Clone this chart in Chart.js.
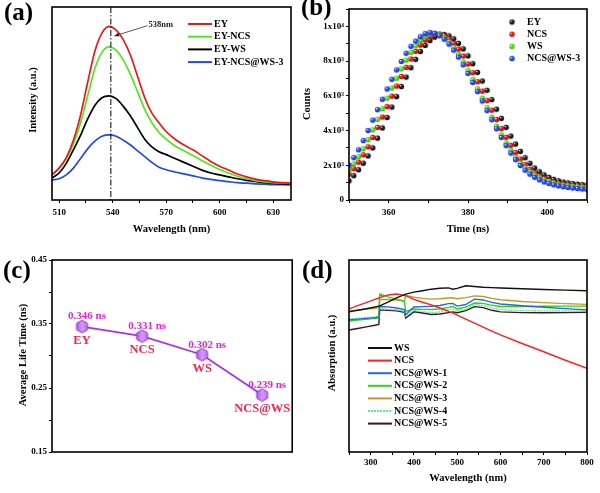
<!DOCTYPE html>
<html><head><meta charset="utf-8">
<script src="https://cdn.jsdelivr.net/npm/chart.js@4/dist/chart.umd.min.js"></script>
<style>
html,body{margin:0;padding:0;background:#fff;}
#wrap{position:relative;width:600px;height:493px;overflow:hidden;background:#fff;}
canvas{position:absolute;}
.pl{position:absolute;font-family:'Liberation Serif','Times New Roman',serif;font-weight:bold;font-size:25px;line-height:1;color:#000;}
</style></head>
<body><div id="wrap">
<canvas id="ca" width="300" height="245" style="left:0;top:0"></canvas>
<canvas id="cb" width="300" height="245" style="left:300px;top:0"></canvas>
<canvas id="cc" width="300" height="248" style="left:0;top:245px"></canvas>
<canvas id="cd" width="300" height="248" style="left:300px;top:245px"></canvas>
<div class="pl" style="left:4px;top:-1px">(a)</div>
<div class="pl" style="left:301px;top:-6px">(b)</div>
<div class="pl" style="left:3px;top:257px">(c)</div>
<div class="pl" style="left:302px;top:257px">(d)</div>
</div>
<script>
// ---------- (a) PL spectra ----------
const plWavelength = [506,510,514,518,522,526,530,534,538,542,546,550,554,558,562,566,570,575,580,585,590,595,600,605,610,615,620,625,630,635,640];
const plEY      = [13,16.5,22,31,44,61,77,86.5,90,88,83,75,64,53,45,40,35.5,31.5,28.5,26,23,20,17.5,15.5,13.5,12,10.8,10,9.4,9,8.8];
const plEYNCS   = [13.5,16.5,21.5,29,40,54,68,76.5,79.3,77.5,72.5,65,56,47,40,35,31.5,28,25.5,23,20.5,18,15.8,14,12.3,11,10,9.4,9,8.8,8.6];
const plEYWS    = [11.4,14,19,26,33.5,42,49,53,54,52.5,48.5,43.5,37.5,31.5,27.5,25,23.5,21.5,19.5,17.5,15.5,14,13,12,11,10.2,9.6,9,8.6,8.4,8.3];
const plEYNCSWS = [10.4,11,13,16.5,21.5,26.5,30.5,33,33.7,33,31,28.5,25.5,22.5,19.5,17,15.7,14.5,13.5,12.5,11.5,10.7,10,9.5,9,8.7,8.4,8.2,8,7.9,7.8];
const plLabels  = ['EY','EY-NCS','EY-WS','EY-NCS@WS-3'];
const plPeakLine = 539;
const plPeakText = '538nm';

// ---------- (b) decay curves ----------
const trTime = [350,351.2,352.4,353.6,354.8,356,357.2,358.4,359.6,360.8,362,363.2,364.4,365.6,366.8,368,369.2,370.4,371.6,372.8,374,375.2,376.4,377.6,378.8,380,381.2,382.4,383.6,384.8,386,387.2,388.4,389.6,390.8,392,393.2,394.4,395.6,396.8,398,399.2,400.4,401.6,402.8,404,405.2,406.4,407.6,408.8,410];
const trEY  = [1100,1400,1740,2120,2540,3000,3560,4150,4750,5350,5950,6530,7080,7620,8100,8550,8900,9180,9380,9500,9530,9450,9280,9020,8700,8300,7850,7350,6850,6320,5780,5230,4700,4180,3680,3220,2800,2430,2110,1840,1620,1440,1300,1190,1100,1030,980,940,910,880,860];
const trNCS = [1480,1800,2180,2600,3060,3600,4180,4780,5380,5980,6560,7110,7640,8120,8560,8920,9210,9420,9540,9560,9460,9280,9020,8690,8290,7830,7330,6810,6270,5720,5170,4630,4110,3610,3150,2730,2360,2040,1770,1560,1380,1240,1130,1040,970,910,870,840,810,790,770];
const trWS  = [1720,2080,2490,2950,3470,4040,4640,5250,5860,6450,7010,7550,8050,8500,8880,9190,9420,9560,9590,9520,9350,9100,8780,8390,7940,7450,6940,6400,5860,5310,4770,4250,3750,3280,2850,2460,2130,1850,1620,1430,1280,1150,1050,970,900,850,810,780,750,730,710];
const trNCSWS = [2000,2440,2890,3420,4000,4600,5200,5800,6390,6950,7490,7980,8450,8850,9150,9400,9580,9640,9600,9460,9260,8980,8630,8230,7780,7290,6770,6240,5700,5150,4620,4100,3600,3130,2700,2320,1990,1720,1490,1310,1160,1040,950,870,810,760,720,690,660,630,610];
const trLabels = ['EY','NCS','WS','NCS@WS-3'];
const trTickTexts = {0:'0',2000:'2x10\u00B3',4000:'4x10\u00B3',6000:'6x10\u00B3',8000:'8x10\u00B3',10000:'1x10\u2074'};

// ---------- (c) average lifetime ----------
const ltSamples = ['EY','NCS','WS','NCS@WS'];
const ltValues  = [0.346,0.331,0.302,0.239];
const ltTexts   = ['0.346 ns','0.331 ns','0.302 ns','0.239 ns'];

// ---------- (d) absorption ----------
const abWavelength = [250,270,290,310,319,321,340,360,378,381,400,420,440,460,480,490,500,520,540,560,580,600,650,700,750,800];
const abWS   = [73,73.8,74.6,75.5,76,76.1,78,80.3,82,82.2,83.3,84,84.8,85.3,85.5,84.8,85.2,86.6,86.2,85.8,85.6,85.4,85,84.6,84.3,84];
const abNCS  = [74.5,76.2,77.8,79.5,80.2,80.4,81.8,82.3,81.6,81.4,79.5,78,76.6,75,73.2,72.3,71.3,69.2,67.1,65,63,61,56.5,52.2,47.8,43.6];
const abNW1  = [68.8,69.2,69.6,70,70.2,75.8,75.6,75,74.2,71.5,75.5,75.7,75.9,76.3,77.3,77.4,76,76.8,79.6,79.2,77.9,77.1,76.2,75.4,74.7,74];
const abNW2  = [68.2,68.7,69.1,69.6,69.9,82.3,80.8,79.6,78.6,73.2,74.5,74.3,74.2,74.5,75.3,75.8,74.5,75.5,77.6,77.4,76.4,75.8,75.8,75.9,76,76];
const abNW3  = [73.4,73.9,74.4,74.9,75.2,79.5,79.4,79.2,78.6,81.6,80.6,80,79.6,79.8,80.2,80.3,79.8,80.4,81.3,81,80,79.3,78.4,77.8,77.3,76.9];
const abNW4  = [69.2,69.6,70,70.4,70.6,74.6,74.3,74,73.3,70.8,73.8,73.2,72.5,73,74.2,74.5,73.3,74.3,76.7,76.3,75,74.2,73.7,73.5,73.4,73.5];
const abNW5  = [63.5,64.3,65.2,66,66.5,74,73.8,73.5,72.8,69.8,73,72.4,71.6,71.9,72.6,73,72.5,73.6,75.7,75.2,73.8,73,72.6,72.5,72.6,72.8];
const abLabels = ['WS','NCS','NCS@WS-1','NCS@WS-2','NCS@WS-3','NCS@WS-4','NCS@WS-5'];

// ---------- helpers ----------
const SERIF = "'Liberation Serif','Times New Roman',serif";
Chart.defaults.font.family = SERIF;
Chart.defaults.color = '#000';

function sphere(color, dark, r) {
  const s = Math.ceil(r * 2) + 1;
  const c = document.createElement('canvas'); c.width = s; c.height = s;
  const g = c.getContext('2d');
  const grd = g.createRadialGradient(s*0.36, s*0.34, 0.2, s/2, s/2, r);
  grd.addColorStop(0, '#ffffff');
  grd.addColorStop(0.3, color);
  grd.addColorStop(1, dark);
  g.fillStyle = grd; g.beginPath(); g.arc(s/2, s/2, r, 0, Math.PI*2); g.fill();
  return c;
}
function hexagon(r) {
  const s = Math.ceil(r * 2) + 2;
  const c = document.createElement('canvas'); c.width = s; c.height = s;
  const g = c.getContext('2d');
  g.beginPath();
  for (let k = 0; k < 6; k++) {
    const a = (-90 + 60 * k) * Math.PI / 180;
    const px = s/2 + r * Math.cos(a), py = s/2 + r * Math.sin(a);
    k ? g.lineTo(px, py) : g.moveTo(px, py);
  }
  g.closePath();
  const grd = g.createLinearGradient(0, 0, s, 0);
  grd.addColorStop(0, '#a448e6'); grd.addColorStop(0.5, '#d49af8'); grd.addColorStop(1, '#b866ee');
  g.fillStyle = grd; g.fill();
  g.strokeStyle = '#8e2ad2'; g.lineWidth = 1; g.stroke();
  return c;
}

function makeDeco(cfg) {
  return {
    id: 'deco',
    afterDraw(chart) {
      const ctx = chart.ctx, a = chart.chartArea;
      ctx.save();
      if (cfg.extra) cfg.extra(chart, ctx);
      ctx.strokeStyle = '#000'; ctx.lineWidth = 1.6; ctx.setLineDash([]);
      ctx.strokeRect(a.left, a.top, a.right - a.left, a.bottom - a.top);
      ctx.fillStyle = '#000'; ctx.textAlign = 'center'; ctx.textBaseline = 'middle';
      ctx.font = 'bold 10.5px ' + SERIF;
      ctx.fillText(cfg.xTitle, (a.left + a.right) / 2, cfg.xTitleY);
      ctx.save(); ctx.translate(cfg.yTitleX, cfg.yTitleY); ctx.rotate(-Math.PI/2);
      ctx.fillText(cfg.yTitle, 0, 0); ctx.restore();
      if (cfg.legend) {
        const L = cfg.legend;
        ctx.font = 'bold 10px ' + SERIF; ctx.textAlign = 'left';
        chart.data.datasets.forEach((ds, i) => {
          const y = L.y0 + i * L.dy;
          if (L.kind === 'dot') {
            const im = ds.pointStyle;
            ctx.drawImage(im, L.x0 - im.width/2, y - im.height/2);
          } else {
            ctx.strokeStyle = ds.borderColor; ctx.lineWidth = 2;
            ctx.setLineDash(ds.borderDash || []);
            ctx.beginPath(); ctx.moveTo(L.x0, y); ctx.lineTo(L.x1, y); ctx.stroke();
            ctx.setLineDash([]);
          }
          ctx.fillStyle = '#000';
          ctx.fillText(ds.label, L.tx, y);
        });
      }
      ctx.restore();
    }
  };
}

function tickGrid() {
  return { display: true, drawOnChartArea: false, drawTicks: true, tickLength: 3, color: '#000', lineWidth: 1 };
}
const tickFont = { family: SERIF, weight: 'bold', size: 9 };

// ---------- chart (a) ----------
const aColors = ['#f21616', '#4ee81c', '#000000', '#2248ee'];
new Chart(document.getElementById('ca'), {
  type: 'line',
  data: {
    labels: plWavelength,
    datasets: [plEY, plEYNCS, plEYWS, plEYNCSWS].map((arr, i) => ({
      label: plLabels[i],
      data: arr.map((v, k) => ({ x: plWavelength[k], y: v })),
      borderColor: aColors[i], borderWidth: 1.7, pointRadius: 0,
      cubicInterpolationMode: 'monotone', fill: false
    }))
  },
  options: {
    responsive: false, animation: false, events: [],
    layout: { padding: { top: 7, right: 9, left: 0, bottom: 0 } },
    plugins: { legend: { display: false }, tooltip: { enabled: false } },
    scales: {
      x: { type: 'linear', min: 506, max: 640,
        ticks: { stepSize: 15, includeBounds: false, font: tickFont, padding: 4, maxRotation: 0, autoSkip: false,
          callback: v => (v % 30 === 0 ? String(v) : '') },
        grid: tickGrid(), border: { display: false },
        afterFit: s => { s.height = 45; } },
      y: { min: 0, max: 100, ticks: { display: false }, grid: { display: false }, border: { display: false },
        afterFit: s => { s.width = 52; } }
    }
  },
  plugins: [makeDeco({
    xTitle: 'Wavelength (nm)', xTitleY: 229,
    yTitle: 'Intensity (a.u.)', yTitleX: 33, yTitleY: 100,
    legend: { kind: 'line', x0: 188, x1: 212, tx: 214, y0: 24, dy: 12.7 },
    extra: (chart, ctx) => {
      const xs = chart.scales.x, ys = chart.scales.y, a = chart.chartArea;
      const px = xs.getPixelForValue(plPeakLine);
      ctx.strokeStyle = '#000'; ctx.lineWidth = 1; ctx.setLineDash([6, 2, 1.5, 2]);
      ctx.beginPath(); ctx.moveTo(px, a.top); ctx.lineTo(px, a.bottom); ctx.stroke();
      ctx.setLineDash([]);
      const x1 = xs.getPixelForValue(559.5), y1 = ys.getPixelForValue(90.3);
      const x2 = xs.getPixelForValue(541), y2 = ys.getPixelForValue(85);
      ctx.strokeStyle = '#444'; ctx.lineWidth = 0.9;
      ctx.beginPath(); ctx.moveTo(x1, y1); ctx.lineTo(x2, y2); ctx.stroke();
      const ang = Math.atan2(y2 - y1, x2 - x1);
      ctx.fillStyle = '#222';
      ctx.beginPath(); ctx.moveTo(x2, y2);
      ctx.lineTo(x2 - 5 * Math.cos(ang - 0.4), y2 - 5 * Math.sin(ang - 0.4));
      ctx.lineTo(x2 - 5 * Math.cos(ang + 0.4), y2 - 5 * Math.sin(ang + 0.4));
      ctx.closePath(); ctx.fill();
      ctx.font = 'bold 8.5px ' + SERIF; ctx.textAlign = 'left'; ctx.textBaseline = 'middle';
      ctx.fillText(plPeakText, x1 + 1, y1 - 1);
    }
  })]
});

// ---------- chart (b) ----------
const bSpheres = [sphere('#333333', '#050505', 2.7), sphere('#ff2020', '#c00000', 2.7), sphere('#66f030', '#2fb800', 2.7), sphere('#3a5cff', '#1a2cc8', 2.7)];
new Chart(document.getElementById('cb'), {
  type: 'scatter',
  data: {
    datasets: [trEY, trNCS, trWS, trNCSWS].map((arr, i) => ({
      label: trLabels[i],
      data: arr.map((v, k) => ({ x: trTime[k], y: v })),
      pointStyle: bSpheres[i], pointRadius: 2.7, showLine: false,
      order: 3 - i
    }))
  },
  options: {
    responsive: false, animation: false, events: [],
    layout: { padding: { top: 9, right: 13, left: 0, bottom: 0 } },
    plugins: { legend: { display: false }, tooltip: { enabled: false } },
    scales: {
      x: { type: 'linear', min: 350, max: 410,
        ticks: { stepSize: 10, font: tickFont, padding: 4, maxRotation: 0, autoSkip: false,
          callback: v => (v % 20 === 0 ? String(v) : '') },
        grid: tickGrid(), border: { display: false },
        afterFit: s => { s.height = 45; } },
      y: { min: 0, max: 11000,
        ticks: { stepSize: 1000, font: tickFont, padding: 2, autoSkip: false,
          callback: v => (trTickTexts[v] !== undefined ? trTickTexts[v] : '') },
        grid: tickGrid(), border: { display: false },
        afterFit: s => { s.width = 49; } }
    }
  },
  plugins: [makeDeco({
    xTitle: 'Time (ns)', xTitleY: 229,
    yTitle: 'Counts', yTitleX: 7, yTitleY: 104,
    legend: { kind: 'dot', x0: 212, tx: 227, y0: 22, dy: 12.2 }
  })]
});

// ---------- chart (c) ----------
const hexImg = hexagon(6.3);
new Chart(document.getElementById('cc'), {
  type: 'line',
  data: {
    labels: ltSamples,
    datasets: [{ label: 'Average life time', data: ltValues, borderColor: '#b02ee6', borderWidth: 1.8,
      pointStyle: hexImg, pointRadius: 6, tension: 0 }]
  },
  options: {
    responsive: false, animation: false, events: [],
    layout: { padding: { top: 15, right: 7, left: 0, bottom: 0 } },
    plugins: { legend: { display: false }, tooltip: { enabled: false } },
    scales: {
      x: { type: 'category', offset: true, ticks: { display: false }, grid: { display: false }, border: { display: false },
        afterFit: s => { s.height = 41; } },
      y: { min: 0.15, max: 0.45,
        ticks: { stepSize: 0.05, font: tickFont, padding: 2, autoSkip: false,
          callback: v => (Math.round(v * 100) % 10 === 5 ? v.toFixed(2) : '') },
        grid: tickGrid(), border: { display: false },
        afterFit: s => { s.width = 52; } }
    }
  },
  plugins: [makeDeco({
    xTitle: '', xTitleY: 0,
    yTitle: 'Average Life Time (ns)', yTitleX: 23, yTitleY: 110,
    extra: (chart, ctx) => {
      const pts = chart.getDatasetMeta(0).data;
      ctx.textAlign = 'center'; ctx.textBaseline = 'middle';
      pts.forEach((p, i) => {
        ctx.font = 'bold 11px ' + SERIF; ctx.fillStyle = '#f01ed4';
        ctx.fillText(ltTexts[i], p.x + 5, p.y - 10);
        ctx.font = 'bold 12.5px ' + SERIF; ctx.fillStyle = '#ff1f4a';
        ctx.fillText(ltSamples[i], p.x, p.y + 14);
      });
    }
  })]
});

// ---------- chart (d) ----------
const dColors = ['#111111', '#ff1f1f', '#2a62f2', '#2ed80a', '#c8962a', '#52eea0', '#4a0f22'];
new Chart(document.getElementById('cd'), {
  type: 'line',
  data: {
    datasets: [abWS, abNCS, abNW1, abNW2, abNW3, abNW4, abNW5].map((arr, i) => ({
      label: abLabels[i],
      data: arr.map((v, k) => ({ x: abWavelength[k], y: v })),
      borderColor: dColors[i], borderWidth: 1.4, pointRadius: 0, tension: 0,
      borderDash: i === 5 ? [2, 1] : undefined
    }))
  },
  options: {
    responsive: false, animation: false, events: [],
    layout: { padding: { top: 15, right: 13, left: 0, bottom: 0 } },
    plugins: { legend: { display: false }, tooltip: { enabled: false } },
    scales: {
      x: { type: 'linear', min: 250, max: 800,
        ticks: { stepSize: 50, font: tickFont, padding: 2, maxRotation: 0, autoSkip: false,
          callback: v => (v % 100 === 0 ? String(v) : '') },
        grid: tickGrid(), border: { display: false },
        afterFit: s => { s.height = 41; } },
      y: { min: 0, max: 100, ticks: { display: false }, grid: { display: false }, border: { display: false },
        afterFit: s => { s.width = 49; } }
    }
  },
  plugins: [makeDeco({
    xTitle: 'Wavelength (nm)', xTitleY: 233,
    yTitle: 'Absorption (a.u.)', yTitleX: 32, yTitleY: 108,
    legend: { kind: 'line', x0: 68, x1: 92, tx: 94, y0: 103, dy: 12.6 }
  })]
});
</script>
</body></html>
